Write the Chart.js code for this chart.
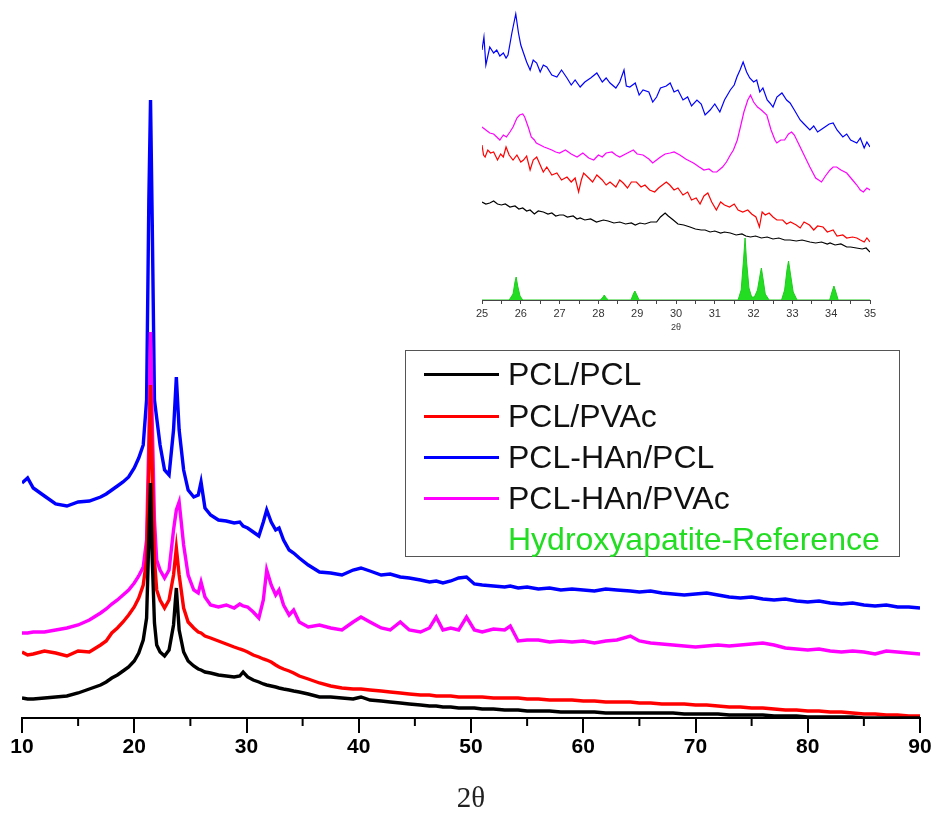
<!DOCTYPE html>
<html>
<head>
<meta charset="utf-8">
<script src="https://cdn.jsdelivr.net/npm/chart.js@4.4.1/dist/chart.umd.min.js"></script>
<style>
  body { margin: 0; background: #fff; }
  #wrap { position: relative; width: 937px; height: 820px; }
  #mainChart { position: absolute; left: 0; top: 0; }
  #insetChart { position: absolute; left: 470px; top: 0; }
  #legend {
    position: absolute; left: 405px; top: 350px; width: 493px; height: 205px;
    border: 1.5px solid #555; font-family: "Liberation Sans", Arial, sans-serif;
    font-size: 32px; color: #111;
  }
  .row { position: absolute; left: 0; height: 36px; display: flex; align-items: center; }
  .swatch { width: 75px; height: 3px; margin-left: 18px; margin-right: 9px; }
</style>
</head>
<body>
<div id="wrap">
  <canvas id="mainChart" width="937" height="820"></canvas>
  <canvas id="insetChart" width="420" height="335"></canvas>
  <div id="legend"></div>
</div>
<script>
// series names and colours
const seriesNames = ["PCL/PCL", "PCL/PVAc", "PCL-HAn/PCL", "PCL-HAn/PVAc", "Hydroxyapatite-Reference"];
const seriesColors = ["#000000", "#ff0000", "#0000ff", "#ff00ff", "#22dd22"];

// main pattern, 2-theta in degrees
const twoTheta = [
  10, 10.5, 11, 12, 13, 14, 15, 16, 17,
  17.5, 18, 18.5, 19, 19.5, 20,
  20.4, 20.8, 21.1, 21.3, 21.45, 21.6, 21.8,
  22.0, 22.3, 22.7, 23.1, 23.5, 23.75, 24.0, 24.4, 24.8,
  25.3, 25.7, 25.95, 26.3, 26.8,
  27.5, 28.2, 28.9, 29.4, 29.7,
  30.1, 30.6, 31.1, 31.5, 31.8,
  32.2, 32.6, 32.9, 33.3, 33.8,
  34.2, 34.7, 35.5, 36.5, 37.5,
  38.5, 39.5, 40.2, 41, 42,
  42.8, 43.7, 44.5, 45.5, 46.3,
  46.9, 47.5, 48.2, 48.9, 49.6,
  50.3, 51, 52, 53, 53.5,
  54.2, 55, 56, 57, 58,
  59, 60, 61, 62, 63,
  64.2, 65, 66, 67, 68,
  69, 70, 71, 72, 73, 74, 75, 76, 77, 78, 79, 80, 81, 82, 83, 84, 85, 86, 87, 88, 89, 90
];

// intensities (a.u., offset stacked as in the figure)
const pclPcl = [
  20, 19, 19, 20, 21, 22, 25, 29, 33,
  36, 40, 43, 47, 51, 57,
  65, 78, 100, 180, 235, 160, 95,
  73, 66, 62, 68, 93, 130, 88, 66, 57,
  52, 49, 48, 46, 45,
  43, 42, 41, 42, 46,
  41, 38, 36, 34, 33,
  32, 31, 30, 29, 28,
  27, 26, 24, 21, 21,
  20, 19, 21, 18, 17,
  16, 15, 14, 13, 12,
  12, 11, 11, 10, 10,
  10, 9, 9, 8, 8,
  8, 7, 7, 7, 6,
  6, 6, 6, 5, 5,
  5, 5, 5, 5, 5,
  4, 4, 4, 4, 3, 3, 3, 3, 2, 2, 2, 1, 1, 1, 1, 1, 0, 0, 0, 0, 0, 0
];
const pclPvac = [
  66, 63, 64, 67, 65, 62, 67, 66, 73,
  77, 85, 90, 96, 103, 111,
  120, 133, 158, 250, 333, 250, 158,
  128, 118, 110, 118, 143, 170, 143, 110, 96,
  90, 86, 85, 82, 80,
  77, 74, 71, 69, 68,
  66, 63, 61, 59, 58,
  56, 53, 51, 49, 47,
  45, 42, 39, 35, 32,
  30, 29, 29, 28, 27,
  26, 25, 24, 23, 23,
  22, 22, 22, 21, 21,
  21, 21, 20, 20, 20,
  20, 19, 19, 18, 18,
  18, 17, 17, 16, 16,
  16, 15, 15, 14, 14,
  14, 13, 13, 12, 11, 11, 10, 10, 9, 8, 8, 7, 7, 6, 6, 5, 4, 4, 3, 3, 2, 2
];
const pclHanPcl = [
  235, 240, 230, 222, 214, 212, 216, 217, 221,
  224, 228, 232, 236, 241, 250,
  260, 273, 318, 518, 618, 498, 318,
  300, 273, 248, 243, 288, 341, 288, 248, 228,
  221, 223, 236, 210, 203,
  198, 197, 195, 196, 192,
  190, 186, 182, 196, 208,
  196, 188, 190, 178, 168,
  165, 160, 153, 146, 145,
  143, 148, 150, 147, 143,
  144, 141, 140, 138, 136,
  137, 135, 137, 140, 141,
  134, 133, 132, 131, 132,
  130, 131, 129, 130, 128,
  129, 128, 127, 129, 128,
  127, 126, 127, 125, 124,
  123, 124, 125, 123, 121, 120, 121, 119, 118, 119, 117, 116, 117, 115, 114, 115, 113, 112, 113, 111, 111, 110
];
const pclHanPvac = [
  85, 85, 86, 86, 88, 90, 93, 98, 105,
  109, 114, 118, 123, 128, 135,
  142, 151, 178, 278, 386, 298, 198,
  158, 148, 140, 148, 188, 208, 216, 173, 143,
  128, 125, 136, 121, 113,
  111, 113, 110, 114, 112,
  111, 106, 100, 118, 148,
  133, 123, 128, 113, 103,
  108, 96, 91, 93, 90,
  88, 96, 101, 96, 90,
  88, 96, 88, 86, 90,
  101, 88, 90, 88, 101,
  88, 86, 89, 88, 92,
  77, 78, 78, 76, 77,
  76, 77, 75, 77, 78,
  82, 77, 75, 74, 73,
  72, 71, 72, 73, 72, 73, 74, 75, 73, 70, 69, 68, 69, 67, 66, 67, 66, 64, 67, 66, 65, 64
];

const mainTicks = [10, 20, 30, 40, 50, 60, 70, 80, 90];
const mainMinorTicks = [15, 25, 35, 45, 55, 65, 75, 85];

// inset 25-35 deg, each trace with its own sampling
const insetBlueTheta = [25.0, 25.05, 25.1, 25.2, 25.3, 25.38, 25.46, 25.55, 25.62, 25.67, 25.77, 25.87, 25.94, 26.0, 26.07, 26.15, 26.24, 26.32, 26.41, 26.5, 26.58, 26.67, 26.8, 26.93, 27.05, 27.19, 27.3, 27.4, 27.53, 27.65, 27.8, 27.96, 28.1, 28.2, 28.3, 28.45, 28.55, 28.66, 28.72, 28.81, 28.95, 29.05, 29.15, 29.3, 29.4, 29.5, 29.6, 29.75, 29.85, 29.95, 30.05, 30.18, 30.3, 30.4, 30.54, 30.65, 30.75, 30.88, 31.0, 31.13, 31.25, 31.4, 31.5, 31.57, 31.65, 31.73, 31.82, 31.9, 32.0, 32.08, 32.16, 32.24, 32.35, 32.42, 32.5, 32.6, 32.73, 32.85, 32.94, 33.05, 33.2, 33.3, 33.45, 33.55, 33.65, 33.8, 33.95, 34.05, 34.15, 34.3, 34.4, 34.5, 34.66, 34.75, 34.85, 34.92, 35.0];
const insetBlue = [250, 263, 235, 253, 247, 250, 244, 247, 242, 245, 267, 286, 267, 255, 247, 238, 230, 240, 237, 228, 235, 233, 225, 223, 230, 222, 215, 220, 213, 218, 222, 227, 218, 222, 217, 212, 218, 230, 214, 213, 217, 205, 210, 208, 198, 203, 212, 214, 217, 208, 210, 200, 203, 194, 200, 196, 185, 190, 196, 188, 200, 210, 215, 223, 230, 238, 228, 222, 218, 220, 208, 212, 200, 197, 193, 203, 207, 200, 197, 190, 180, 176, 170, 174, 168, 172, 176, 177, 170, 163, 166, 160, 157, 162, 152, 158, 153];

const insetMagentaTheta = [25.0, 25.1, 25.2, 25.3, 25.46, 25.55, 25.63, 25.72, 25.8, 25.9, 25.97, 26.05, 26.1, 26.2, 26.27, 26.35, 26.4, 26.5, 26.6, 26.67, 26.8, 26.9, 27.0, 27.15, 27.3, 27.45, 27.6, 27.75, 27.88, 28.0, 28.1, 28.2, 28.35, 28.45, 28.55, 28.7, 28.8, 28.9, 29.0, 29.15, 29.3, 29.4, 29.5, 29.6, 29.72, 29.85, 29.95, 30.1, 30.25, 30.35, 30.45, 30.6, 30.72, 30.85, 30.95, 31.05, 31.2, 31.3, 31.4, 31.48, 31.58, 31.66, 31.75, 31.85, 31.92, 32.0, 32.1, 32.2, 32.34, 32.45, 32.55, 32.6, 32.7, 32.8, 32.9, 32.98, 33.05, 33.2, 33.3, 33.45, 33.6, 33.75, 33.85, 33.97, 34.05, 34.14, 34.25, 34.4, 34.55, 34.66, 34.75, 34.83, 34.92, 35.0];
const insetMagenta = [173, 170, 167, 166, 160, 165, 163, 168, 173, 182, 185, 186, 183, 172, 163, 160, 157, 155, 153, 152, 150, 148, 147, 150, 146, 143, 147, 142, 140, 145, 143, 147, 148, 145, 143, 146, 148, 150, 146, 145, 141, 137, 140, 143, 146, 147, 148, 145, 141, 139, 137, 133, 130, 131, 128, 128, 133, 138, 145, 150, 160, 173, 188, 200, 205, 198, 193, 190, 185, 170, 160, 157, 160, 160, 166, 168, 165, 153, 145, 133, 122, 118, 124, 130, 133, 133, 130, 127, 120, 115, 110, 108, 112, 110];

const insetRedTheta = [25.0, 25.04, 25.08, 25.15, 25.22, 25.3, 25.4, 25.48, 25.55, 25.62, 25.7, 25.8, 25.9, 26.0, 26.07, 26.15, 26.24, 26.32, 26.41, 26.5, 26.58, 26.67, 26.8, 26.93, 27.05, 27.19, 27.3, 27.4, 27.49, 27.56, 27.62, 27.75, 27.85, 27.96, 28.1, 28.2, 28.3, 28.45, 28.55, 28.64, 28.75, 28.85, 28.98, 29.1, 29.2, 29.32, 29.45, 29.55, 29.65, 29.75, 29.84, 29.95, 30.05, 30.18, 30.3, 30.4, 30.52, 30.62, 30.72, 30.82, 30.92, 31.04, 31.15, 31.25, 31.38, 31.5, 31.6, 31.72, 31.85, 31.95, 32.06, 32.15, 32.22, 32.3, 32.4, 32.5, 32.6, 32.75, 32.85, 32.95, 33.1, 33.2, 33.3, 33.44, 33.55, 33.65, 33.79, 33.9, 34.05, 34.15, 34.3, 34.4, 34.55, 34.66, 34.75, 34.85, 34.92, 35.0];
const insetRed = [155, 145, 143, 150, 147, 148, 140, 146, 143, 153, 145, 140, 145, 138, 140, 144, 130, 140, 143, 135, 128, 133, 125, 127, 120, 123, 118, 122, 108, 120, 127, 122, 118, 125, 120, 115, 118, 113, 120, 117, 112, 118, 118, 113, 115, 110, 108, 112, 115, 118, 115, 110, 112, 105, 108, 100, 102, 96, 104, 107, 98, 90, 98, 95, 93, 96, 90, 88, 90, 86, 83, 73, 88, 85, 87, 83, 80, 80, 76, 78, 75, 72, 78, 75, 70, 74, 73, 68, 70, 64, 65, 62, 63, 62, 60, 58, 62, 58];

const insetBlackTheta = [25.0, 25.1, 25.2, 25.3, 25.4, 25.5, 25.6, 25.72, 25.85, 25.95, 26.05, 26.15, 26.24, 26.35, 26.45, 26.58, 26.7, 26.8, 26.9, 27.0, 27.1, 27.2, 27.35, 27.45, 27.53, 27.65, 27.8, 27.95, 28.13, 28.25, 28.4, 28.55, 28.7, 28.85, 28.95, 29.07, 29.2, 29.35, 29.5, 29.6, 29.72, 29.8, 29.93, 30.05, 30.2, 30.36, 30.5, 30.65, 30.75, 30.88, 31.0, 31.15, 31.25, 31.4, 31.55, 31.7, 31.8, 31.92, 32.05, 32.2, 32.35, 32.5, 32.65, 32.8, 32.94, 33.1, 33.25, 33.45, 33.6, 33.75, 33.9, 33.97, 34.1, 34.25, 34.4, 34.5, 34.65, 34.8, 34.9, 35.0];
const insetBlack = [98, 96, 97, 99, 96, 95, 96, 93, 94, 91, 92, 89, 90, 86, 89, 88, 86, 87, 84, 85, 85, 83, 84, 81, 82, 80, 81, 78, 80, 79, 77, 78, 76, 77, 75, 77, 76, 78, 78, 83, 87, 84, 80, 76, 75, 73, 71, 70, 70, 68, 69, 67, 68, 67, 65, 66, 64, 63, 64, 62, 63, 61, 62, 60, 60, 59, 60, 58, 57, 58, 56, 57, 55, 56, 53, 53, 52, 51, 52, 48];

// hydroxyapatite reference lines (inset only)
const hapTheta = [25.0, 25.7, 25.8, 25.85, 25.88, 25.92, 25.98, 26.05, 28.05, 28.12, 28.15, 28.2, 28.26, 28.84, 28.9, 28.94, 28.99, 29.05, 31.6, 31.68, 31.74, 31.78, 31.82, 31.88, 31.95, 32.02, 32.1, 32.18, 32.2, 32.24, 32.3, 32.4, 32.72, 32.8, 32.86, 32.9, 32.95, 33.02, 33.12, 33.96, 34.02, 34.07, 34.12, 34.18, 35.0];
const hapRef = [0, 0, 6, 18, 23, 14, 4, 0, 0, 3, 5, 2, 0, 0, 6, 9, 5, 0, 0, 10, 40, 62, 38, 12, 3, 3, 10, 28, 32, 22, 6, 0, 0, 10, 30, 39, 26, 8, 0, 0, 8, 14, 8, 0, 0];

const insetTicks = [25, 26, 27, 28, 29, 30, 31, 32, 33, 34, 35];

function toPoints(xs, ys) {
  return xs.map((x, i) => ({ x: x, y: ys[i] }));
}

// draws the short ticks between the labelled ones
const minorTickPlugin = {
  id: "minorTicks",
  afterDraw(chart, args, opts) {
    if (!opts.values) return;
    const s = chart.scales.x;
    const ctx = chart.ctx;
    ctx.save();
    ctx.strokeStyle = opts.color;
    ctx.lineWidth = opts.width;
    opts.values.forEach(v => {
      const x = s.getPixelForValue(v);
      ctx.beginPath();
      ctx.moveTo(x, s.top);
      ctx.lineTo(x, s.top + opts.length);
      ctx.stroke();
    });
    ctx.restore();
  }
};

const mainSeries = [pclPcl, pclPvac, pclHanPcl, pclHanPvac];
const drawOrder = [0, 1, 3, 2]; // black on top, blue at the back

const mainChart = new Chart(document.getElementById("mainChart"), {
  type: "line",
  data: {
    datasets: mainSeries.map((ys, i) => ({
      label: seriesNames[i],
      data: toPoints(twoTheta, ys),
      borderColor: seriesColors[i],
      borderWidth: 3.4,
      pointRadius: 0,
      tension: 0,
      order: drawOrder[i]
    }))
  },
  plugins: [minorTickPlugin],
  options: {
    responsive: false,
    animation: false,
    layout: { padding: { left: 22, right: 17, top: 18, bottom: 0 } },
    plugins: {
      legend: { display: false },
      tooltip: { enabled: false },
      minorTicks: { values: mainMinorTicks, length: 8, color: "#000", width: 2 }
    },
    scales: {
      x: {
        type: "linear",
        min: 10,
        max: 90,
        afterBuildTicks: (scale) => { scale.ticks = mainTicks.map(v => ({ value: v })); },
        afterFit: (scale) => { scale.height = 102; },
        grid: { drawOnChartArea: false, drawTicks: true, tickLength: 15, color: "#000", lineWidth: 2 },
        border: { display: true, color: "#000", width: 2 },
        ticks: {
          autoSkip: false, maxRotation: 0, padding: 2, color: "#000",
          font: { family: "'Liberation Sans Narrow', 'Arial Narrow', 'Liberation Sans', sans-serif", size: 21, weight: "bold" }
        },
        title: {
          display: true, text: "2θ", color: "#222",
          font: { family: "'Liberation Serif', 'Times New Roman', serif", size: 29 },
          padding: { top: 0, bottom: 3 }
        }
      },
      y: { display: false, min: 0, max: 700 }
    }
  }
});

const insetData = [
  [insetBlackTheta, insetBlack, 0],
  [insetRedTheta, insetRed, 1],
  [insetBlueTheta, insetBlue, 2],
  [insetMagentaTheta, insetMagenta, 3]
];

const insetChart = new Chart(document.getElementById("insetChart"), {
  type: "line",
  data: {
    datasets: insetData.map(([xs, ys, k]) => ({
      label: seriesNames[k],
      data: toPoints(xs, ys),
      borderColor: seriesColors[k],
      borderWidth: 1.2,
      pointRadius: 0,
      tension: 0
    })).concat([{
      label: seriesNames[4],
      data: toPoints(hapTheta, hapRef),
      borderColor: "#1ecc1e",
      backgroundColor: "#22dd22",
      borderWidth: 1,
      pointRadius: 0,
      tension: 0,
      fill: "origin"
    }])
  },
  options: {
    responsive: false,
    animation: false,
    layout: { padding: { left: 12, right: 20, top: 10, bottom: 0 } },
    plugins: { legend: { display: false }, tooltip: { enabled: false } },
    scales: {
      x: {
        type: "linear",
        min: 25,
        max: 35,
        afterBuildTicks: (scale) => {
          const t = [];
          insetTicks.forEach((v, i) => {
            t.push({ value: v });
            if (i < insetTicks.length - 1) t.push({ value: v + 0.5 });
          });
          scale.ticks = t;
        },
        afterFit: (scale) => { scale.height = 35; },
        grid: { drawOnChartArea: false, drawTicks: true, tickLength: 4, color: "#444", lineWidth: 1 },
        border: { display: true, color: "#444", width: 1 },
        ticks: {
          autoSkip: false, maxRotation: 0, padding: 3, color: "#333",
          font: { family: "'Liberation Sans', Arial, sans-serif", size: 11 },
          callback: (v) => Number.isInteger(v) ? v : ""
        },
        title: {
          display: true, text: "2θ", color: "#333",
          font: { family: "'Liberation Sans', Arial, sans-serif", size: 9 },
          padding: { top: 0, bottom: 2 }
        }
      },
      y: { display: false, min: 0, max: 290 }
    }
  }
});

// legend box built from the series names
const legend = document.getElementById("legend");
const rowCenters = [23, 65, 106, 147, 188];
seriesNames.forEach((name, i) => {
  const row = document.createElement("div");
  row.className = "row";
  row.style.top = (rowCenters[i] - 18) + "px";
  const sw = document.createElement("div");
  sw.className = "swatch";
  sw.style.background = i < 4 ? seriesColors[i] : "transparent";
  const txt = document.createElement("span");
  txt.textContent = name;
  if (i === 4) txt.style.color = seriesColors[4];
  row.appendChild(sw);
  row.appendChild(txt);
  legend.appendChild(row);
});
</script>
</body>
</html>
